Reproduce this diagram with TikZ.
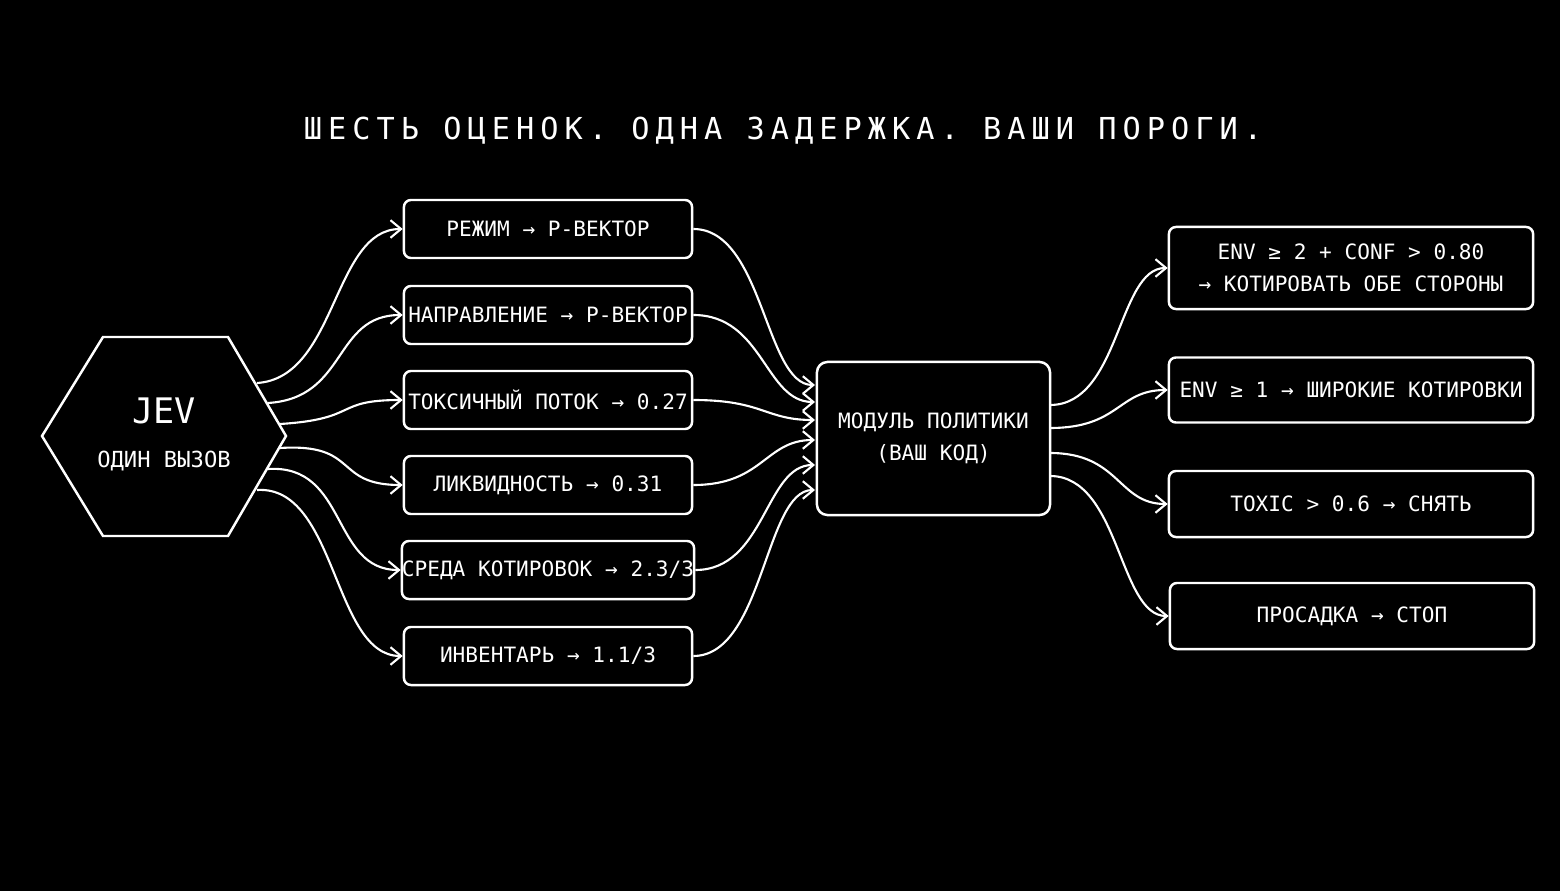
\documentclass[tikz,border=0pt]{standalone}
\usepackage{fontspec}
\setmainfont{DejaVu Sans Mono}
\newfontfamily\titlefont[LetterSpace=20]{DejaVu Sans Mono}
\usetikzlibrary{arrows.meta}
\begin{document}
\begin{tikzpicture}[x=0.01cm,y=-0.01cm,
  box/.style={draw=white,line width=0.7pt,rounded corners=2pt,text=white,font=\fontsize{6}{7}\selectfont,inner sep=0pt,align=center},
  con/.style={draw=white,line width=0.6pt,-{Straight Barb[length=3pt,width=5pt]}}]
\fill[black] (0,0) rectangle (1560,891);
\useasboundingbox (0,0) rectangle (1560,891);
\node[text=white,font=\titlefont\fontsize{8.6}{10}\selectfont] (title) at (783,131) {ШЕСТЬ ОЦЕНОК. ОДНА ЗАДЕРЖКА. ВАШИ ПОРОГИ.};
% hexagon
\draw[white,line width=0.7pt] (42,436)--(103,337)--(228,337)--(286,436)--(228,536)--(103,536)--cycle;
\node[text=white,font=\fontsize{10}{12}\selectfont] (jev) at (164,411) {JEV};
\node[text=white,font=\fontsize{6.3}{7}\selectfont] (call) at (164,461) {ОДИН ВЫЗОВ};
\coordinate (h1) at (257,383);\coordinate (h2) at (268,403);\coordinate (h3) at (280,424);
\coordinate (h4) at (280,448);\coordinate (h5) at (268,469);\coordinate (h6) at (257,490);
% middle boxes
\foreach \n/\y/\t in {1/229/{РЕЖИМ → Р-ВЕКТОР},2/315/{НАПРАВЛЕНИЕ → Р-ВЕКТОР},3/400/{ТОКСИЧНЫЙ ПОТОК → 0.27},4/485/{ЛИКВИДНОСТЬ → 0.31},5/570/{СРЕДА КОТИРОВОК → 2.3/3},6/656/{ИНВЕНТАРЬ → 1.1/3}}{
  \node[box,minimum width=2.88cm,minimum height=0.58cm] (m\n) at (548,\y) {\t};
}
% policy
\node[box,minimum width=2.33cm,minimum height=1.53cm,font=\fontsize{6}{9}\selectfont,rounded corners=3pt] (pol) at (933.5,438.5) {МОДУЛЬ ПОЛИТИКИ\\(ВАШ КОД)};
% right boxes
\node[box,minimum width=3.64cm,minimum height=0.82cm,font=\fontsize{6}{9}\selectfont] (r1) at (1351,268) {ENV ≥ 2 + CONF > 0.80\\→ КОТИРОВАТЬ ОБЕ СТОРОНЫ};
\node[box,minimum width=3.64cm,minimum height=0.65cm,font=\fontsize{6}{9}\selectfont] (r2) at (1351,390) {ENV ≥ 1 → ШИРОКИЕ КОТИРОВКИ};
\node[box,minimum width=3.64cm,minimum height=0.66cm,font=\fontsize{6}{9}\selectfont] (r3) at (1351,504) {TOXIC > 0.6 → СНЯТЬ};
\node[box,minimum width=3.64cm,minimum height=0.66cm,font=\fontsize{6}{9}\selectfont] (r4) at (1352,616) {ПРОСАДКА → СТОП};
% connectors hexagon -> boxes
\foreach \i in {1,...,6}{
  \draw[con] (h\i) .. controls +(80,-5) and +(-70,0) .. (m\i.west);
}
% boxes -> policy
\foreach \i/\yy in {1/385,2/402,3/420,4/440,5/465,6/490}{
  \coordinate (p\i) at (815,\yy);
  \draw[con] (m\i.east) .. controls +(70,0) and +(-50,0) .. (p\i);
}
% policy -> right
\foreach \i/\yy in {1/405,2/428,3/453,4/476}{
  \coordinate (q\i) at (1050,\yy);
  \draw[con] (q\i) .. controls +(70,0) and +(-50,0) .. (r\i.west);
}
\end{tikzpicture}
\end{document}
